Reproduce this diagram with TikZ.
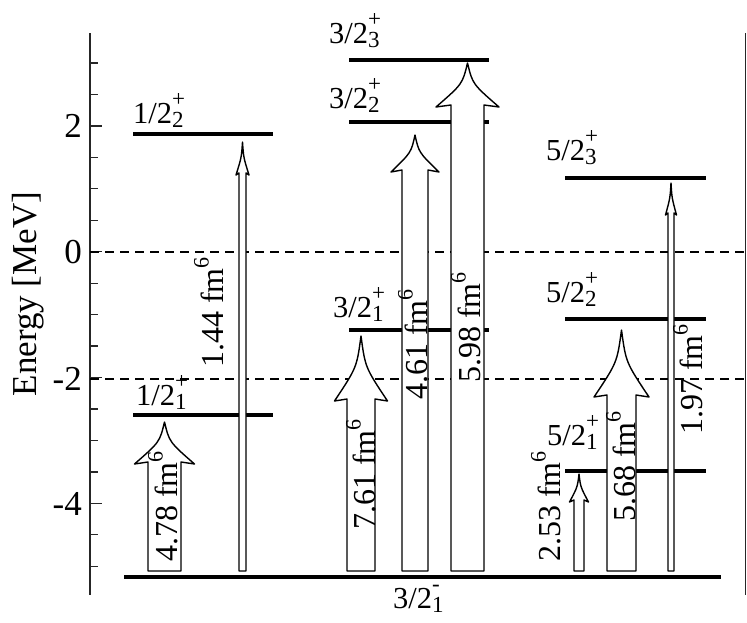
\documentclass[tikz,border=0pt]{standalone}
\usepackage{fontspec}
\setmainfont{Liberation Serif}
\newcommand{\lvl}[3]{#1\rlap{\raisebox{-0.15em}{\fontsize{23}{23}\selectfont #2}}\raisebox{0.55em}{\fontsize{23}{23}\selectfont #3}}
\newcommand{\fmsix}{fm\raisebox{0.45em}{\fontsize{22}{22}\selectfont 6}}
% block arrow: xc, ybase, shaft width, head width, y of head base, y of tip
\newcommand{\barrowdraw}[6]{%
  \path[barrow] ({#1-#3/2},#2) -- ({#1-#3/2},#5) -- ({#1-#4/2},{#5+2})
    .. controls ({#1-0.08*#4},{#5-0.5*(#5-#6)}) .. (#1,#6)
    .. controls ({#1+0.08*#4},{#5-0.5*(#5-#6)}) .. ({#1+#4/2},{#5+2})
    -- ({#1+#3/2},#5) -- ({#1+#3/2},#2) -- cycle;}
\begin{document}
\begin{tikzpicture}[x=1pt,y=-1pt,
  levelline/.style={line width=3.6pt},
  axisline/.style={line width=1.3pt, color=black!85},
  dashline/.style={line width=1.2pt, dash pattern=on 9pt off 6pt},
  barrow/.style={draw, fill=white, line width=1.4pt, line join=round},
  lvllabel/.style={anchor=base west, inner sep=0pt, font=\fontsize{30.5}{30.5}\selectfont},
  ticklabel/.style={anchor=east, inner sep=0pt, font=\fontsize{35}{35}\selectfont},
  arrlabel/.style={anchor=base west, rotate=90, inner sep=0pt, font=\fontsize{32}{32}\selectfont}]
\useasboundingbox (0,0) rectangle (747,622);

% frame / axis
\draw[axisline] (90,33) coordinate (axtop) -- (90,595) coordinate (axbot);
\draw[axisline] (745.5,33) coordinate (rtop) -- (745.5,595) coordinate (rbot);
\foreach \e in {3,2.5,1.5,1,0.5,-0.5,-1,-1.5,-2.5,-3,-3.5,-4.5,-5}
  \draw[axisline] (90,{251.7-62.9*\e}) -- (98,{251.7-62.9*\e});
\foreach \e in {2,0,-2,-4}
  \draw[axisline] (90,{251.7-62.9*\e}) -- (102,{251.7-62.9*\e});
\node[ticklabel] (t2) at (82,126) {2};
\node[ticklabel] (t0) at (82,252) {0};
\node[ticklabel] (tm2) at (82,379) {-2};
\node[ticklabel] (tm4) at (82,504) {-4};
\node[rotate=90, inner sep=0pt, font=\fontsize{35}{35}\selectfont] (ylab) at (28,294) {Energy [MeV]};

% dashed thresholds
\draw[dashline] (90,252) -- (745,252);
\draw[dashline] (90,379) -- (745,379);

% levels
\draw[levelline] (124,577) coordinate (g0) -- (721,577) coordinate (g1);
\draw[levelline] (133,134) -- (273,134);
\draw[levelline] (133,415) -- (273,415);
\draw[levelline] (349,60) -- (489,60);
\draw[levelline] (349,122) -- (489,122);
\draw[levelline] (349,330) -- (489,330);
\draw[levelline] (565,178) -- (706,178);
\draw[levelline] (565,319) -- (706,319);
\draw[levelline] (565,471) -- (706,471);

% level labels
\node[lvllabel] (l12b) at (133,123) {\lvl{1/2}{2}{+}};
\node[lvllabel] (l12a) at (136,405) {\lvl{1/2}{1}{+}};
\node[lvllabel] (l32c) at (329,43) {\lvl{3/2}{3}{+}};
\node[lvllabel] (l32b) at (329,108) {\lvl{3/2}{2}{+}};
\node[lvllabel] (l32a) at (333,317) {\lvl{3/2}{1}{+}};
\node[lvllabel] (l52c) at (546,160) {\lvl{5/2}{3}{+}};
\node[lvllabel] (l52b) at (546,302) {\lvl{5/2}{2}{+}};
\node[lvllabel] (l52a) at (547,445) {\lvl{5/2}{1}{+}};
\node[lvllabel] (gs) at (393,608) {\lvl{3/2}{1}{-}};

% transition arrows
\barrowdraw{164.5}{571}{33}{60}{462}{422}
\barrowdraw{242.5}{571}{7}{13}{173}{142}
\barrowdraw{361}{571}{28}{53}{399}{336}
\barrowdraw{415}{571}{26}{48}{170}{135}
\barrowdraw{467.5}{571}{33}{63}{105}{63}
\barrowdraw{579}{571}{10}{19}{500}{474}
\barrowdraw{621.5}{571}{29}{55}{395}{330}
\barrowdraw{671}{571}{6}{11}{213}{183}

% arrow labels
\node[arrlabel] (a1) at (177,562) {4.78 \fmsix};
\node[arrlabel] (a2) at (223,368) {1.44 \fmsix};
\node[arrlabel] (a3) at (375,530) {7.61 \fmsix};
\node[arrlabel] (a4) at (427,400) {4.61 \fmsix};
\node[arrlabel] (a5) at (480,383) {5.98 \fmsix};
\node[arrlabel] (a6) at (560,562) {2.53 \fmsix};
\node[arrlabel] (a7) at (635,522) {5.68 \fmsix};
\node[arrlabel] (a8) at (702,435) {1.97 \fmsix};
\end{tikzpicture}
\end{document}
